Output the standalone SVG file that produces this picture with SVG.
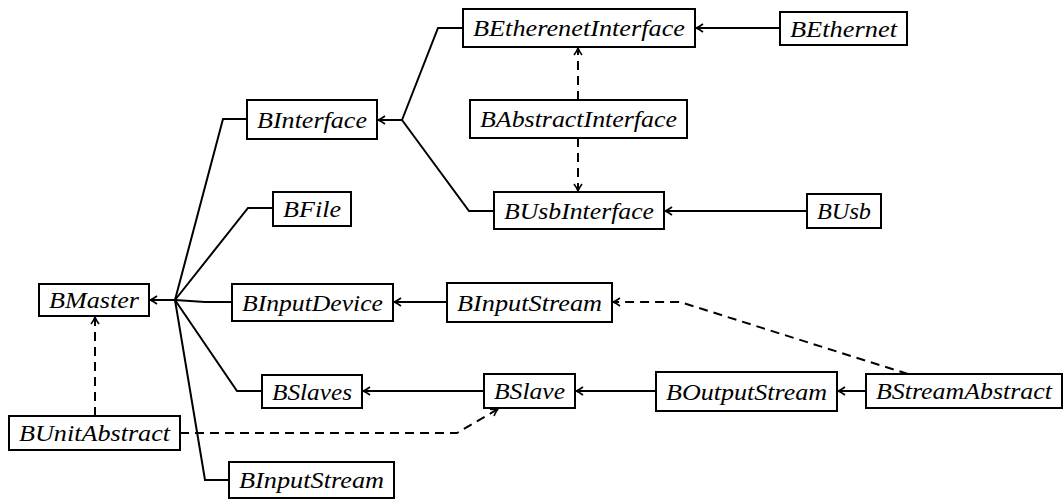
<svg xmlns="http://www.w3.org/2000/svg" width="1064" height="500" viewBox="0 0 1064 500">
<defs>
<style>
.box{fill:#fff;stroke:#000;stroke-width:2}
.t{font-family:"Liberation Serif","Times New Roman",serif;font-style:italic;font-size:23px;text-anchor:middle;fill:#000}
.c{fill:none;stroke:#000;stroke-width:2}
.d{fill:none;stroke:#000;stroke-width:2;stroke-dasharray:9 6}
.a{marker-end:url(#ah)}
</style>
<marker id="ah" markerUnits="userSpaceOnUse" markerWidth="14" markerHeight="12" viewBox="-8 -6 10 12" refX="0" refY="0" orient="auto">
<path d="M-7,-4 Q-3,-1 0,0 Q-3,1 -7,4" fill="none" stroke="#000" stroke-width="1.6"/>
</marker>
</defs>
<g id="connectors">
<path class="c a" d="M175,300 L150,300"/>
<path class="c" d="M175,300 L223,119 L247,119"/>
<path class="c" d="M175,300 L248,208 L273,208"/>
<path class="c" d="M175,300 L205,302 L232,302"/>
<path class="c" d="M175,300 L237,391 L262,391"/>
<path class="c" d="M175,300 L205,480 L229,480"/>
<path class="c a" d="M402,120 L378,120"/>
<path class="c" d="M402,120 L438,28 L463,28"/>
<path class="c" d="M402,120 L469,211 L494,211"/>
<path class="c a" d="M780,28 L696,28"/>
<path class="c a" d="M807,211 L665,211"/>
<path class="c a" d="M447,302 L394,302"/>
<path class="c a" d="M484,391 L363,391"/>
<path class="c a" d="M656,391 L576,391"/>
<path class="c a" d="M867,391 L838,391"/>
<path class="d a" d="M578,100 L578,48"/>
<path class="d a" d="M578,138 L578,191"/>
<path class="d a" d="M95,416 L95,317"/>
<path class="d a" d="M180,433 L457,433 L498,409"/>
<path class="d a" d="M908,374 L680,302 L613,302"/>
</g>
<g id="BEtherenetInterface"><rect class="box" x="463" y="9" width="232" height="38"/><text class="t" x="579" y="36" textLength="212" lengthAdjust="spacingAndGlyphs">BEtherenetInterface</text></g>
<g id="BEthernet"><rect class="box" x="780" y="12" width="127" height="33"/><text class="t" x="843.5" y="36.5" textLength="107" lengthAdjust="spacingAndGlyphs">BEthernet</text></g>
<g id="BInterface"><rect class="box" x="247" y="100" width="130" height="39"/><text class="t" x="312" y="127.5" textLength="110" lengthAdjust="spacingAndGlyphs">BInterface</text></g>
<g id="BAbstractInterface"><rect class="box" x="470" y="100" width="217" height="38"/><text class="t" x="578.5" y="127" textLength="197" lengthAdjust="spacingAndGlyphs">BAbstractInterface</text></g>
<g id="BFile"><rect class="box" x="273" y="192" width="78" height="34"/><text class="t" x="312" y="217" textLength="58" lengthAdjust="spacingAndGlyphs">BFile</text></g>
<g id="BUsbInterface"><rect class="box" x="494" y="192" width="170" height="37"/><text class="t" x="579" y="218.5" textLength="150" lengthAdjust="spacingAndGlyphs">BUsbInterface</text></g>
<g id="BUsb"><rect class="box" x="807" y="194" width="74" height="34"/><text class="t" x="844" y="219" textLength="54" lengthAdjust="spacingAndGlyphs">BUsb</text></g>
<g id="BMaster"><rect class="box" x="39" y="284" width="110" height="32"/><text class="t" x="94" y="308" textLength="90" lengthAdjust="spacingAndGlyphs">BMaster</text></g>
<g id="BInputDevice"><rect class="box" x="232" y="284" width="161" height="37"/><text class="t" x="312.5" y="310.5" textLength="141" lengthAdjust="spacingAndGlyphs">BInputDevice</text></g>
<g id="BInputStream1"><rect class="box" x="447" y="283" width="165" height="39"/><text class="t" x="529.5" y="310.5" textLength="145" lengthAdjust="spacingAndGlyphs">BInputStream</text></g>
<g id="BSlaves"><rect class="box" x="262" y="375" width="100" height="33"/><text class="t" x="312" y="399.5" textLength="80" lengthAdjust="spacingAndGlyphs">BSlaves</text></g>
<g id="BSlave"><rect class="box" x="484" y="374" width="91" height="34"/><text class="t" x="529.5" y="399" textLength="71" lengthAdjust="spacingAndGlyphs">BSlave</text></g>
<g id="BOutputStream"><rect class="box" x="656" y="372" width="181" height="39"/><text class="t" x="746.5" y="399.5" textLength="161" lengthAdjust="spacingAndGlyphs">BOutputStream</text></g>
<g id="BStreamAbstract"><rect class="box" x="866" y="374" width="196" height="34"/><text class="t" x="964" y="399" textLength="176" lengthAdjust="spacingAndGlyphs">BStreamAbstract</text></g>
<g id="BUnitAbstract"><rect class="box" x="9" y="416" width="171" height="34"/><text class="t" x="94.5" y="441" textLength="151" lengthAdjust="spacingAndGlyphs">BUnitAbstract</text></g>
<g id="BInputStream2"><rect class="box" x="229" y="462" width="165" height="36"/><text class="t" x="311.5" y="488" textLength="145" lengthAdjust="spacingAndGlyphs">BInputStream</text></g>
</svg>
